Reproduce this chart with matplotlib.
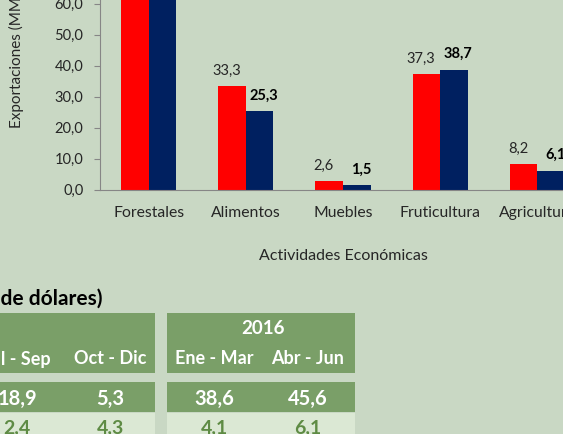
import numpy as np
import matplotlib.pyplot as plt
from matplotlib.patches import Rectangle

plt.rcParams['font.family'] = ['Lato', 'DejaVu Sans']

# data
# =========================
categories = ["Forestales", "Alimentos", "Muebles", "Fruticultura", "Agricultura"]
values_2015 = [80.0, 33.3, 2.6, 37.3, 8.2]   # red bars (Forestales cut off in the picture)
values_2016 = [78.0, 25.3, 1.5, 38.7, 6.1]   # blue bars
y_ticks = [0, 10, 20, 30, 40, 50, 60, 70]

table_cols = ["Jul - Sep", "Oct - Dic", "Ene - Mar", "Abr - Jun"]
table_row1 = [18.9, 5.3, 38.6, 45.6]
table_row2 = [2.4, 4.3, 4.1, 6.1]

W, H = 563, 434
BG = '#C9D8C4'
DARK_GREEN = '#7A9F68'
LIGHT_GREEN = '#DBE8D4'
RED = '#FF0000'
BLUE = '#002060'


def comma(v):
    return f"{v:.1f}".replace('.', ',')


def px_rect(x0, y0, x1, y1, color):
    fig.add_artist(Rectangle((x0 / W, 1 - y1 / H), (x1 - x0) / W, (y1 - y0) / H,
                             transform=fig.transFigure, facecolor=color,
                             edgecolor='none', zorder=0))


def px_text(x, y, s, **kw):
    fig.text(x / W, 1 - y / H, s, ha='center', va='center', **kw)


fig = plt.figure(figsize=(W / 100, H / 100), dpi=100)
fig.patch.set_facecolor(BG)

# bar chart (axes run past the figure edges, like the crop)
# =========================
ax = fig.add_axes([100 / W, (H - 189.5) / H, 486 / W, 217 / H])
ax.set_facecolor('none')

x = np.arange(len(categories))
w = 0.283
bars_a = ax.bar(x - w / 2, values_2015, w, color=RED, zorder=2)
bars_b = ax.bar(x + w / 2, values_2016, w, color=BLUE, zorder=2)

for b, v in zip(bars_a, values_2015):
    ax.annotate(comma(v), (b.get_x() + b.get_width() / 2, v), xytext=(-4, 6),
                textcoords='offset points', ha='center', va='bottom',
                fontsize=10.5, color='#262626')
for b, v in zip(bars_b, values_2016):
    ax.annotate(comma(v), (b.get_x() + b.get_width() / 2, v), xytext=(3, 6),
                textcoords='offset points', ha='center', va='bottom',
                fontsize=10.5, color='black', fontweight='bold')

ax.set_xlim(-0.5, len(categories) - 0.5)
ax.set_ylim(0, 70)
ax.set_yticks(y_ticks)
ax.set_yticklabels([comma(t) for t in y_ticks])
ax.set_xticks(x)
ax.set_xticklabels(categories)
ax.tick_params(axis='y', length=4, color='#868686', pad=8, labelsize=10.5, labelcolor='#262626')
ax.tick_params(axis='x', length=0, pad=12, labelsize=11.3, labelcolor='#262626')
for s in ['top', 'right']:
    ax.spines[s].set_visible(False)
for s in ['left', 'bottom']:
    ax.spines[s].set_color('#868686')
ax.set_xlabel("Actividades Económicas", fontsize=11.5, color='#262626', labelpad=21)

fig.text(16 / W, 1 - 128 / H, "Exportaciones (MMUS$)", rotation=90,
         ha='center', va='bottom', fontsize=11, color='#262626')

# table below the chart
# =========================
fig.text(102 / W, 1 - 299 / H, "(Millones de dólares)", ha='right', va='center',
         fontsize=15, fontweight='bold', color='black')

blocks = [(-5, 155.3), (166.7, 355.3)]
for x0, x1 in blocks:
    px_rect(x0, 312.7, x1, 373.3, DARK_GREEN)
    px_rect(x0, 381.7, x1, 411.7, DARK_GREEN)
    px_rect(x0, 413, x1, 440, LIGHT_GREEN)

px_text(263, 328, "2016", fontsize=13.5, fontweight='bold', color='white')

col_x = [17, 110, 214, 308]
for cx, name, v1, v2 in zip(col_x, table_cols, table_row1, table_row2):
    px_text(cx, 359, name, fontsize=13, fontweight='bold', color='white')
    px_text(cx, 399, comma(v1), fontsize=14.5, fontweight='bold', color='white')
    px_text(cx, 428, comma(v2), fontsize=14, fontweight='bold', color='#5E8B44')

plt.savefig("out.png", dpi=100, facecolor=BG)
